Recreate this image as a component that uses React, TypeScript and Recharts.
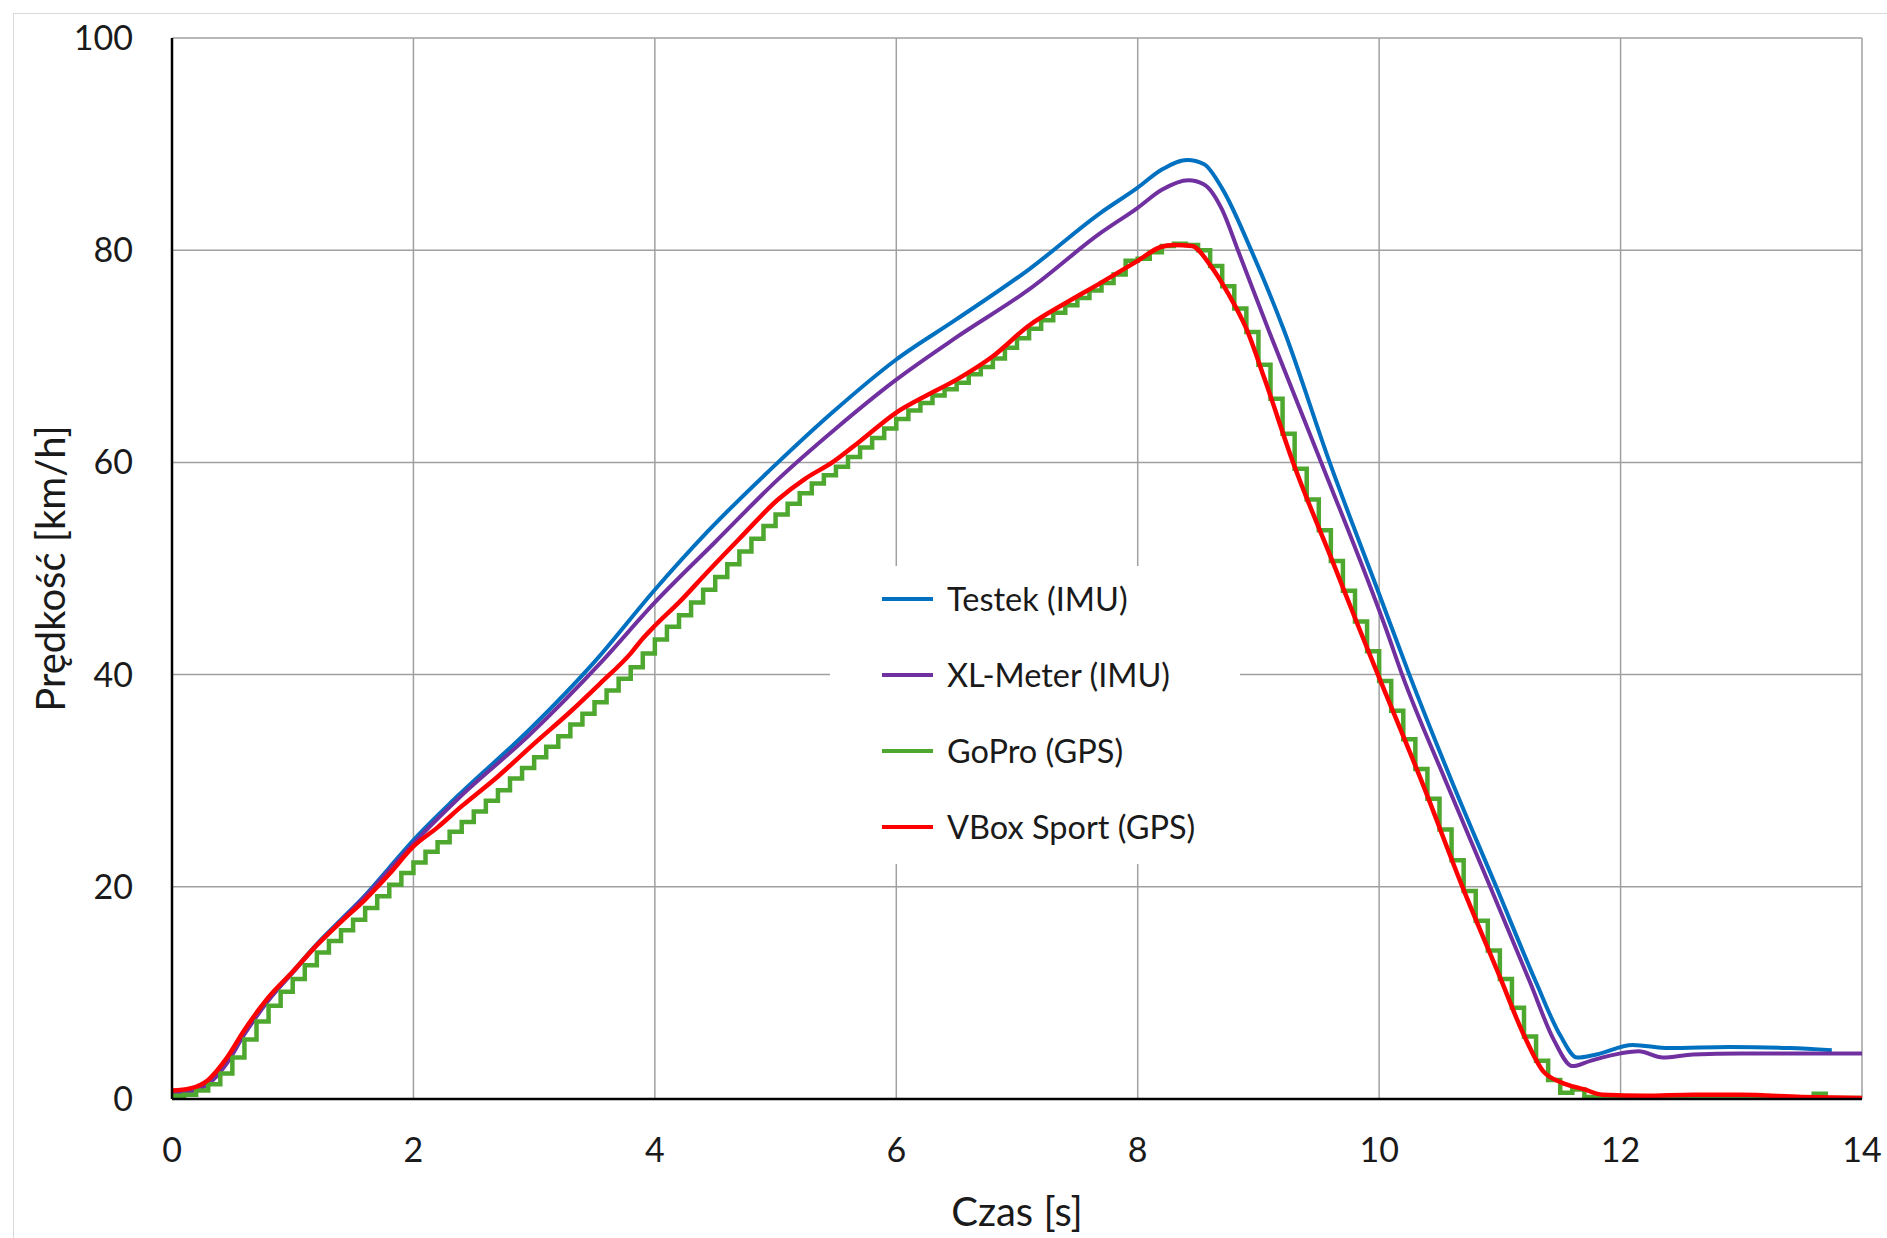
import React from 'react';
import { LineChart, Line, XAxis, YAxis, CartesianGrid, Legend } from 'recharts';

const FONT = 'Lato, "Open Sans", "Noto Sans", sans-serif';

const xTicks = [0, 2, 4, 6, 8, 10, 12, 14];
const yTicks = [0, 20, 40, 60, 80, 100];

const seriesNames = ['Testek (IMU)', 'XL-Meter (IMU)', 'GoPro (GPS)', 'VBox Sport (GPS)'];
const seriesColors = ['#0070C0', '#7030A0', '#4EA72E', '#FF0000'];

// [time s, speed km/h]
const testek: [number, number][] = [
  [0, 0.6], [0.15, 0.8], [0.3, 1.5], [0.45, 3.4], [0.6, 6.2], [0.8, 9.4], [1.0, 12.0], [1.2, 14.6],
  [1.4, 16.9], [1.6, 19.2], [1.8, 21.8], [2.0, 24.4], [2.37, 28.6], [2.96, 34.8], [3.5, 41.2],
  [4.0, 48.0], [4.43, 53.4], [5.02, 60.0], [5.47, 64.7], [6.0, 69.7], [6.5, 73.5], [7.1, 78.2],
  [7.69, 83.5], [8.0, 85.9], [8.2, 87.6], [8.41, 88.5], [8.55, 88.1], [8.7, 85.8], [8.94, 80.0],
  [9.21, 72.5], [9.59, 60.0], [10.0, 47.6], [10.25, 40.0], [10.6, 30.0], [10.97, 20.0], [11.3, 11.0],
  [11.5, 6.0], [11.64, 3.9], [11.8, 4.2], [12.1, 5.1], [12.4, 4.8], [12.9, 4.9], [13.4, 4.8], [13.75, 4.6],
];

const xlMeter: [number, number][] = [
  [0, 0.5], [0.15, 0.7], [0.3, 1.4], [0.45, 3.3], [0.6, 6.1], [0.8, 9.3], [1.0, 11.9], [1.2, 14.5],
  [1.4, 16.8], [1.6, 19.1], [1.8, 21.6], [2.0, 24.1], [2.37, 28.3], [2.96, 34.3], [3.55, 41.1],
  [4.0, 46.8], [4.5, 52.5], [5.02, 58.4], [5.5, 63.2], [6.0, 67.8], [6.5, 71.8], [7.1, 76.3],
  [7.69, 81.6], [8.0, 84.0], [8.2, 85.7], [8.42, 86.6], [8.55, 86.2], [8.7, 83.8], [8.83, 80.0],
  [9.1, 72.0], [9.52, 60.0], [10.06, 44.2], [10.19, 40.0], [10.55, 30.0], [10.92, 20.0], [11.25, 11.0],
  [11.45, 5.5], [11.6, 3.1], [11.75, 3.6], [12.0, 4.3], [12.15, 4.5], [12.35, 3.9], [12.6, 4.2],
  [13.0, 4.3], [14.0, 4.3],
];

const goPro: [number, number][] = [
  [0.0, 0.3], [0.1, 0.4], [0.2, 0.8], [0.3, 1.4], [0.4, 2.4], [0.5, 3.9], [0.6, 5.6], [0.7, 7.3],
  [0.8, 8.8], [0.9, 10.1], [1.0, 11.3], [1.1, 12.6], [1.2, 13.8], [1.3, 14.9], [1.4, 15.9], [1.5, 16.9],
  [1.6, 18.0], [1.7, 19.1], [1.8, 20.2], [1.9, 21.3], [2.0, 22.3], [2.1, 23.3], [2.2, 24.2], [2.3, 25.2],
  [2.4, 26.1], [2.5, 27.1], [2.6, 28.1], [2.7, 29.1], [2.8, 30.2], [2.9, 31.2], [3.0, 32.2], [3.1, 33.2],
  [3.2, 34.2], [3.3, 35.3], [3.4, 36.3], [3.5, 37.4], [3.6, 38.5], [3.7, 39.6], [3.8, 40.7], [3.9, 42.0],
  [4.0, 43.3], [4.1, 44.5], [4.2, 45.6], [4.3, 46.8], [4.4, 48.0], [4.5, 49.2], [4.6, 50.4], [4.7, 51.6],
  [4.8, 52.8], [4.9, 54.0], [5.0, 55.1], [5.1, 56.1], [5.2, 57.1], [5.3, 58.0], [5.4, 58.8], [5.5, 59.6],
  [5.6, 60.5], [5.7, 61.4], [5.8, 62.3], [5.9, 63.2], [6.0, 64.1], [6.1, 64.9], [6.2, 65.6], [6.3, 66.3],
  [6.4, 66.9], [6.5, 67.5], [6.6, 68.3], [6.7, 69.0], [6.8, 69.8], [6.9, 70.8], [7.0, 71.7], [7.1, 72.6],
  [7.2, 73.4], [7.3, 74.1], [7.4, 74.8], [7.5, 75.5], [7.6, 76.2], [7.7, 76.9], [7.8, 77.7], [7.9, 79.0],
  [8.0, 79.2], [8.1, 79.8], [8.2, 80.4], [8.3, 80.6], [8.4, 80.5], [8.5, 80.0], [8.6, 78.5], [8.7, 76.6],
  [8.8, 74.5], [8.9, 72.3], [9.0, 69.2], [9.1, 66.0], [9.2, 62.7], [9.3, 59.4], [9.4, 56.5], [9.5, 53.6],
  [9.6, 50.7], [9.7, 47.9], [9.8, 45.0], [9.9, 42.2], [10.0, 39.4], [10.1, 36.6], [10.2, 33.9], [10.3, 31.1],
  [10.4, 28.3], [10.5, 25.4], [10.6, 22.5], [10.7, 19.6], [10.8, 16.8], [10.9, 14.0], [11.0, 11.3],
  [11.1, 8.6], [11.2, 5.9], [11.3, 3.6], [11.4, 1.8], [11.5, 0.6], [11.6, 0.9], [11.7, 0.2], [11.8, 0.1],
  [12.0, 0.1], [12.5, 0.05], [13.0, 0.1], [13.5, 0.1], [13.6, 0.5], [13.7, 0.1], [14.0, 0.1],
];

const vbox: [number, number][] = [
  [0, 0.8], [0.15, 1.0], [0.3, 1.8], [0.45, 3.8], [0.6, 6.5], [0.8, 9.6], [1.0, 12.0], [1.2, 14.5],
  [1.4, 16.7], [1.6, 18.8], [1.8, 21.2], [2.0, 23.8], [2.2, 25.6], [2.4, 27.6], [2.7, 30.4], [3.0, 33.5],
  [3.3, 36.5], [3.55, 39.2], [3.8, 42.0], [3.9, 43.4], [4.0, 44.6], [4.2, 46.8], [4.43, 49.6], [4.7, 52.8],
  [5.02, 56.5], [5.25, 58.5], [5.47, 60.0], [5.7, 62.0], [6.0, 64.7], [6.25, 66.3], [6.5, 67.8], [6.8, 70.0],
  [7.1, 72.9], [7.4, 75.0], [7.69, 76.9], [8.0, 79.0], [8.19, 80.3], [8.3, 80.5], [8.45, 80.4], [8.6, 78.6],
  [8.75, 75.9], [8.9, 72.6], [9.05, 67.9], [9.29, 59.9], [9.62, 50.5], [9.84, 44.2], [9.99, 40.0],
  [10.35, 30.0], [10.69, 20.0], [11.0, 11.5], [11.2, 6.0], [11.36, 2.6], [11.5, 1.6], [11.7, 0.9],
  [11.85, 0.4], [12.2, 0.3], [12.6, 0.4], [13.0, 0.4], [13.5, 0.2], [14.0, 0.1],
];

const toPoints = (arr: [number, number][]) => arr.map(([t, v]) => ({ t, v }));

const YTitle = (props: any) => {
  const vb = props.viewBox || { x: 0, y: 0, width: 0, height: 0 };
  const cx = vb.x + 50;
  const cy = vb.y + vb.height / 2;
  return (
    <text
      x={cx}
      y={cy}
      transform={`rotate(-90 ${cx} ${cy})`}
      textAnchor="middle"
      dominantBaseline="central"
      fontFamily={FONT}
      fontSize={40}
      fill="#1a1a1a"
    >
      Prędkość [km/h]
    </text>
  );
};

const XTitle = (props: any) => {
  const vb = props.viewBox || { x: 0, y: 0, width: 0, height: 0 };
  return (
    <text
      x={vb.x + vb.width / 2}
      y={vb.y + 127}
      textAnchor="middle"
      fontFamily={FONT}
      fontSize={40}
      fill="#1a1a1a"
    >
      Czas [s]
    </text>
  );
};

const LegendBox = (props: any) => {
  const payload: any[] = props.payload || [];
  const items = seriesNames.map((n, i) => {
    const p = payload.find((x) => x.value === n);
    return { value: n, color: p ? p.color : seriesColors[i] };
  });
  return (
    <div style={{ position: 'relative', width: 410, height: 298, background: '#fff' }}>
      {items.map((it, i) => (
        <div
          key={it.value}
          style={{
            position: 'absolute',
            left: 52,
            top: 33 + i * 76 - 20,
            height: 40,
            display: 'flex',
            alignItems: 'center',
          }}
        >
          <span style={{ display: 'inline-block', width: 51, height: 4, background: it.color, marginRight: 14 }} />
          <span style={{ fontFamily: FONT, fontSize: 32.5, color: '#1a1a1a', whiteSpace: 'nowrap', lineHeight: '40px' }}>
            {it.value}
          </span>
        </div>
      ))}
    </div>
  );
};

export default function App() {
  const datasets = [testek, xlMeter, goPro, vbox].map(toPoints);
  const types: any[] = ['monotone', 'monotone', 'stepAfter', 'monotone'];
  const widths = [4, 4, 4.5, 4.5];
  return (
    <div
      style={{
        position: 'absolute',
        left: 0,
        top: 0,
        width: 1887,
        height: 1238,
        overflow: 'hidden',
        background: '#fff',
      }}
    >
      <div
        style={{
          position: 'absolute',
          left: 13,
          top: 13,
          width: 1900,
          height: 1260,
          border: '1.5px solid #d9d9d9',
        }}
      />
      <div style={{ position: 'absolute', left: 0, top: 0 }}>
        <LineChart width={1887} height={1238} margin={{ top: 38, right: 25, left: 0, bottom: 0 }}>
          <CartesianGrid stroke="#a0a0a0" strokeWidth={1.5} horizontalValues={yTicks} verticalValues={xTicks} />
          <XAxis
            type="number"
            dataKey="t"
            domain={[0, 14]}
            ticks={xTicks}
            allowDataOverflow
            height={139}
            tickLine={false}
            tickSize={0}
            tickMargin={39}
            axisLine={{ stroke: '#000', strokeWidth: 2.5 }}
            tick={{ fontFamily: FONT, fontSize: 34, fill: '#1a1a1a' }}
            label={<XTitle />}
          />
          <YAxis
            type="number"
            dataKey="v"
            domain={[0, 100]}
            ticks={yTicks}
            allowDataOverflow
            width={172}
            tickLine={false}
            tickSize={0}
            tickMargin={39}
            axisLine={{ stroke: '#000', strokeWidth: 2.5 }}
            tick={{ fontFamily: FONT, fontSize: 34, fill: '#1a1a1a' }}
            label={<YTitle />}
          />
          <Legend
            layout="vertical"
            align="center"
            verticalAlign="middle"
            content={<LegendBox />}
            wrapperStyle={{ left: 830, top: 566, width: 410, height: 298, background: '#fff', margin: 0, padding: 0 }}
          />
          {datasets.map((d, i) => (
            <Line
              key={seriesNames[i]}
              data={d}
              dataKey="v"
              name={seriesNames[i]}
              type={types[i]}
              stroke={seriesColors[i]}
              strokeWidth={widths[i]}
              dot={false}
              activeDot={false}
              isAnimationActive={false}
            />
          ))}
        </LineChart>
      </div>
    </div>
  );
}
